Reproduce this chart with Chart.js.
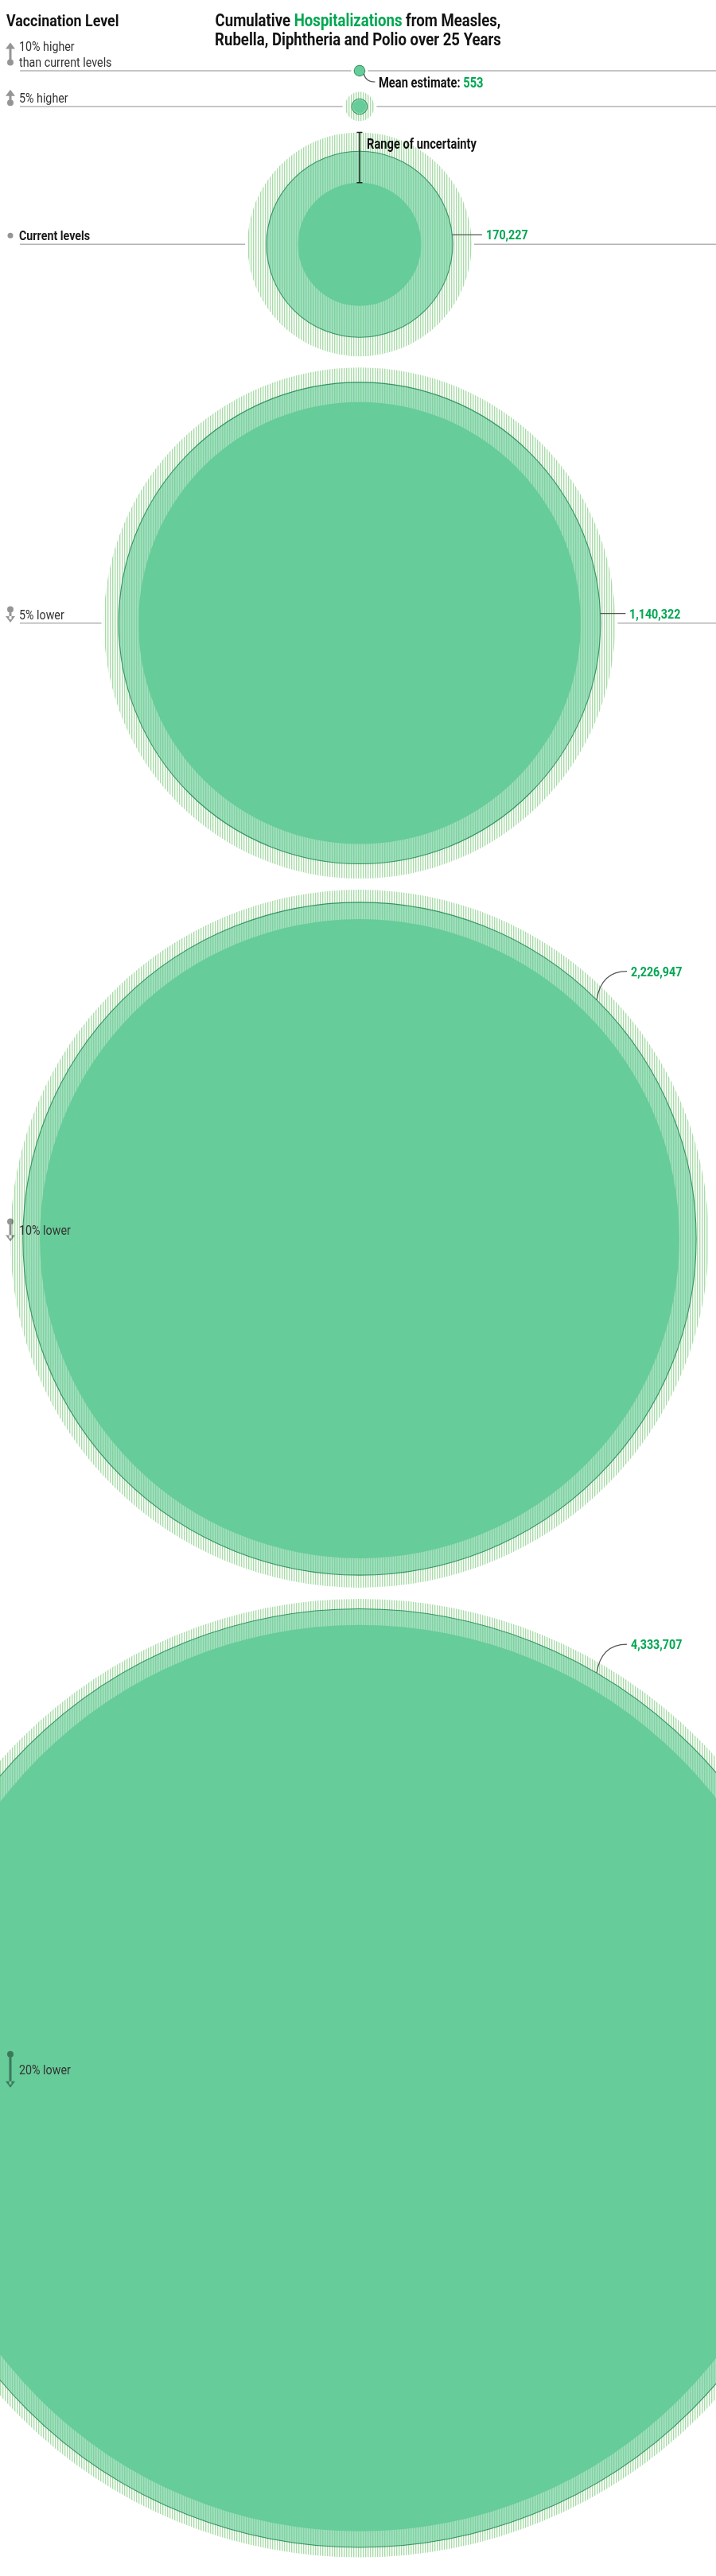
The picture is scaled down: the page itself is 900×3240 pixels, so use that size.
<!DOCTYPE html>
<html>
<head>
<meta charset="utf-8">
<script src="https://cdn.jsdelivr.net/npm/chart.js@4.4.1/dist/chart.umd.min.js"></script>
<style>
  html, body { margin: 0; padding: 0; background: #fff; }
  #wrap {
    position: relative; width: 900px; height: 3240px; overflow: hidden;
    font-family: Roboto, "Liberation Sans", sans-serif; color: #121212;
  }
  #chart { position: absolute; left: 0; top: 0; }
  #cabecalho {
    position: absolute; left: 8px; top: 13px; font-size: 21px; font-weight: bold; line-height: 26px;
    transform: scaleX(0.85); transform-origin: left center;
  }
  #titulo {
    position: absolute; left: 0; top: 14px; width: 900px; text-align: center;
    font-size: 22px; font-weight: bold; line-height: 24px;
    transform: scaleX(0.845); transform-origin: 450px 0;
  }
  .verde { color: #00a651; }
  .nivel {
    position: absolute; left: 24px; white-space: nowrap; font-size: 17px; line-height: 20px;
    color: #333; transform: translateY(-100%) scaleX(0.84); transform-origin: left bottom;
  }
  .nivel span { display: block; }
  .nivel.atual { font-weight: bold; color: #1a1a1a; }
  .valor {
    position: absolute; white-space: nowrap; font-size: 17px; line-height: 20px; font-weight: bold;
    color: #00a651; transform: translateY(-50%) scaleX(0.84); transform-origin: left center;
  }
  .nota {
    position: absolute; white-space: nowrap; font-size: 17.5px; line-height: 20px; font-weight: bold;
    color: #121212; transform: translateY(-50%) scaleX(0.84); transform-origin: left center;
  }
</style>
</head>
<body>
<div id="wrap">
  <canvas id="chart" width="900" height="3240"></canvas>
  <div id="cabecalho">Vaccination Level</div>
  <div id="titulo">Cumulative <span class="verde">Hospitalizations</span> from Measles,<br>Rubella, Diphtheria and Polio over 25 Years</div>
</div>
<script>
/* =========================
   DADOS
========================= */
const levels = ['10% higher', '5% higher', 'Current levels', '5% lower', '10% lower', '20% lower'];
const levelNotes = ['than current levels', '', '', '', '', ''];
const changePct = [10, 5, 0, -5, -10, -20];
const meanEstimate = [553, 1200, 170227, 1140322, 2226947, 4333707];
const lowerBound = [450, 800, 74700, 961000, 2009000, 4040000];
const upperBound = [700, 4200, 247000, 1285000, 2396000, 4520000];
const showValue = [true, false, true, true, true, true];

/* =========================
   LAYOUT (unidades = raiz das hospitalizações)
========================= */
const X_MIN = -1594;
const X_MAX = 1580;
const UNITS_PER_PX = (X_MAX - X_MIN) / 900;
const Y_MAX = 3240 * UNITS_PER_PX;
const FIRST_ROW = 89 * UNITS_PER_PX;
const ROW_GAP = 14 * UNITS_PER_PX;
const MIN_STEP = 45 * UNITS_PER_PX;
const CALLOUT_X = 793;

// empilha as linhas: cada círculo logo abaixo do anterior
const rowCenters = [];
upperBound.forEach((u, i) => {
  if (i === 0) { rowCenters.push(FIRST_ROW); return; }
  const prev = rowCenters[i - 1];
  const prevBottom = prev + Math.sqrt(upperBound[i - 1]);
  rowCenters.push(Math.max(prev + MIN_STEP, prevBottom + ROW_GAP + Math.sqrt(u)));
});

function pontos(valores) {
  return valores.map((v, i) => ({ x: 0, y: rowCenters[i], v }));
}

function raio(ctx) {
  if (!ctx.raw) return 0;
  const s = ctx.chart.scales.x;
  const k = s.getPixelForValue(1) - s.getPixelForValue(0);
  return Math.sqrt(ctx.raw.v) * k;
}

function hachura(cor) {
  const c = document.createElement('canvas');
  c.width = 3;
  c.height = 3;
  const g = c.getContext('2d');
  g.fillStyle = '#fff';
  g.fillRect(0, 0, 3, 3);
  g.fillStyle = cor;
  g.fillRect(0, 0, 1.4, 3);
  return g.createPattern(c, 'repeat');
}

function rowGeometry(chart, i) {
  const xs = chart.scales.x;
  const ys = chart.scales.y;
  const k = xs.getPixelForValue(1) - xs.getPixelForValue(0);
  return {
    cx: xs.getPixelForValue(0),
    cy: ys.getPixelForValue(rowCenters[i]),
    rLow: Math.sqrt(lowerBound[i]) * k,
    rMean: Math.sqrt(meanEstimate[i]) * k,
    rUp: Math.sqrt(upperBound[i]) * k
  };
}

function calloutGeometry(g, i) {
  if (i === 0) {
    const a = 0.6;
    const tx = g.cx + g.rUp + 17;
    const ty = g.cy + 15;
    return { sx: g.cx + g.rMean * Math.cos(a), sy: g.cy + g.rMean * Math.sin(a), ex: tx - 5, ey: ty - 1, tx, ty, curved: true };
  }
  const tx = g.cx + g.rUp + 18;
  if (tx <= CALLOUT_X + 10) {
    const ty = g.cy - 12;
    return { sx: g.cx + Math.sqrt(g.rMean * g.rMean - 144), sy: ty, ex: tx - 5, ey: ty, tx, ty, curved: false };
  }
  const sx = CALLOUT_X - 43;
  const sy = g.cy - Math.sqrt(g.rMean * g.rMean - (sx - g.cx) * (sx - g.cx));
  return { sx, sy, ex: CALLOUT_X - 5, ey: sy - 36, tx: CALLOUT_X, ty: sy - 36, curved: true };
}

function labelCenter(g, i) {
  return levelNotes[i] ? g.cy - 21 : g.cy - 11;
}

/* =========================
   SETAS / LINHAS
========================= */
function desenharSeta(ctx, x, yc, pct) {
  ctx.save();
  ctx.globalCompositeOperation = 'multiply';
  ctx.fillStyle = '#959595';
  ctx.beginPath();
  if (pct === 0) {
    ctx.arc(x, yc, 3.5, 0, Math.PI * 2);
    ctx.fill();
    ctx.restore();
    return;
  }
  const L = 12 + 1.7 * Math.abs(pct);
  const top = yc - L / 2;
  const bot = yc + L / 2;
  ctx.rect(x - 1.5, top + 4, 3, L - 8);
  if (pct > 0) {
    ctx.moveTo(x - 6, top + 8); ctx.lineTo(x, top); ctx.lineTo(x + 6, top + 8); ctx.closePath();
    ctx.moveTo(x + 4, bot - 4);
    ctx.arc(x, bot - 4, 4, 0, Math.PI * 2);
  } else {
    ctx.moveTo(x - 6, bot - 8); ctx.lineTo(x, bot); ctx.lineTo(x + 6, bot - 8); ctx.closePath();
    ctx.moveTo(x + 4, top + 4);
    ctx.arc(x, top + 4, 4, 0, Math.PI * 2);
  }
  ctx.fill();
  ctx.restore();
}

const bracketRow = levels.indexOf('Current levels');

const decorPlugin = {
  id: 'decor',
  beforeDatasetsDraw(chart) {
    const { ctx } = chart;
    ctx.save();
    ctx.strokeStyle = '#b3b3b3';
    ctx.lineWidth = 1.5;
    levels.forEach((_, i) => {
      const g = rowGeometry(chart, i);
      const esq = g.cx - g.rUp - 3;
      const dir = g.cx + g.rUp + 3;
      ctx.beginPath();
      if (esq - 25 > 15) { ctx.moveTo(25, g.cy); ctx.lineTo(esq, g.cy); }
      if (900 - dir > 15) { ctx.moveTo(dir, g.cy); ctx.lineTo(900, g.cy); }
      ctx.stroke();
    });
    ctx.restore();
  },
  afterDatasetsDraw(chart) {
    const { ctx } = chart;
    levels.forEach((_, i) => {
      const g = rowGeometry(chart, i);
      desenharSeta(ctx, 13, labelCenter(g, i), changePct[i]);
      if (!showValue[i]) return;
      const c = calloutGeometry(g, i);
      ctx.save();
      ctx.strokeStyle = '#555';
      ctx.lineWidth = 1.2;
      ctx.beginPath();
      ctx.moveTo(c.sx, c.sy);
      if (c.curved) ctx.quadraticCurveTo(c.sx + (c.ex - c.sx) * 0.15, c.ey, c.ex, c.ey);
      else ctx.lineTo(c.ex, c.ey);
      ctx.stroke();
      ctx.restore();
    });

    // faixa de incerteza
    const g = rowGeometry(chart, bracketRow);
    const top = g.cy - g.rUp;
    const bot = g.cy - g.rLow;
    ctx.save();
    ctx.strokeStyle = '#222';
    ctx.lineWidth = 1.5;
    ctx.beginPath();
    ctx.moveTo(g.cx, top); ctx.lineTo(g.cx, bot);
    ctx.moveTo(g.cx - 3.5, top); ctx.lineTo(g.cx + 3.5, top);
    ctx.moveTo(g.cx - 3.5, bot); ctx.lineTo(g.cx + 3.5, bot);
    ctx.stroke();
    ctx.restore();
  }
};

/* =========================
   GRÁFICO
========================= */
const chart = new Chart(document.getElementById('chart'), {
  type: 'scatter',
  data: {
    datasets: [
      {
        label: 'Lower bound',
        data: pontos(lowerBound),
        backgroundColor: '#66cc99',
        borderWidth: 0,
        pointRadius: ctx => raio(ctx)
      },
      {
        label: 'Mean estimate',
        data: pontos(meanEstimate),
        backgroundColor: 'rgba(102,204,153,0.6)',
        borderColor: 'rgba(40,140,90,0.9)',
        borderWidth: 1.1,
        pointRadius: ctx => raio(ctx)
      },
      {
        label: 'Upper bound',
        data: pontos(upperBound),
        backgroundColor: hachura('#a9dba9'),
        borderWidth: 0,
        pointRadius: ctx => raio(ctx)
      }
    ]
  },
  options: {
    responsive: false,
    animation: false,
    events: [],
    layout: { padding: 0 },
    plugins: {
      legend: { display: false },
      tooltip: { enabled: false }
    },
    scales: {
      x: { type: 'linear', min: X_MIN, max: X_MAX, display: false },
      y: { type: 'linear', min: 0, max: Y_MAX, reverse: true, display: false }
    }
  },
  plugins: [decorPlugin]
});

/* =========================
   TEXTOS
========================= */
const wrap = document.getElementById('wrap');

levels.forEach((txt, i) => {
  const g = rowGeometry(chart, i);

  const el = document.createElement('div');
  el.className = 'nivel' + (changePct[i] === 0 ? ' atual' : '');
  el.style.top = (g.cy - 1) + 'px';
  [txt, levelNotes[i]].filter(Boolean).forEach(t => {
    const s = document.createElement('span');
    s.textContent = t;
    el.appendChild(s);
  });
  wrap.appendChild(el);

  if (!showValue[i]) return;
  const c = calloutGeometry(g, i);
  const v = document.createElement('div');
  const numero = meanEstimate[i].toLocaleString('en-US');
  if (i === 0) {
    v.className = 'nota';
    v.innerHTML = 'Mean estimate: <span class="verde">' + numero + '</span>';
  } else {
    v.className = 'valor';
    v.textContent = numero;
  }
  v.style.left = c.tx + 'px';
  v.style.top = c.ty + 'px';
  wrap.appendChild(v);
});

const gb = rowGeometry(chart, bracketRow);
const nota = document.createElement('div');
nota.className = 'nota';
nota.textContent = 'Range of uncertainty';
nota.style.left = (gb.cx + 9) + 'px';
nota.style.top = (gb.cy - gb.rUp + 15) + 'px';
wrap.appendChild(nota);
</script>
</body>
</html>
